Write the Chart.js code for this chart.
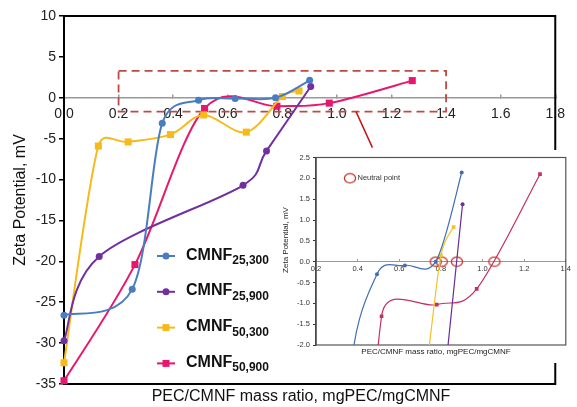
<!DOCTYPE html>
<html><head><meta charset="utf-8">
<script src="https://cdn.jsdelivr.net/npm/chart.js@4.4.1/dist/chart.umd.min.js"></script>
<style>
html,body{margin:0;padding:0;background:#fff;}
#wrap{position:relative;width:577px;height:407px;overflow:hidden;background:#fff;}
#main{position:absolute;left:0;top:0;width:577px;height:407px;}
#inset{position:absolute;left:272px;top:150px;width:305px;height:213px;background:#fff;}
</style></head><body>
<div id="wrap">
<canvas id="main" width="577" height="407"></canvas>
<canvas id="inset" width="305" height="213"></canvas>
</div>
<script>
// ---------- data ----------
const seriesBase = ['CMNF', 'CMNF', 'CMNF', 'CMNF'];
const seriesSub  = ['25,300', '25,900', '50,300', '50,900'];

const cmnf25_300_x = [0, 0.25, 0.36, 0.493, 0.627, 0.775, 0.90];
const cmnf25_300_y = [-26.6, -23.4, -3.1, -0.30, -0.09, 0.0, 2.14];

const cmnf25_900_x = [0, 0.129, 0.656, 0.742, 0.904];
const cmnf25_900_y = [-29.7, -19.4, -10.7, -6.5, 1.38];

const cmnf50_300_x = [0, 0.126, 0.235, 0.39, 0.512, 0.668, 0.80, 0.861];
const cmnf50_300_y = [-32.4, -5.9, -5.4, -4.5, -2.1, -4.2, 0.15, 0.83];

const cmnf50_900_x = [0, 0.26, 0.515, 0.78, 0.972, 1.276];
const cmnf50_900_y = [-34.6, -20.4, -1.31, -1.03, -0.655, 2.10];

const neutralX = [0.775, 0.804, 0.877, 1.057];
const neutralY = [0, 0, 0, 0];

const mainXTicks = { min: 0, max: 1.8, step: 0.2 };
const mainYTicks = { min: -35, max: 10, step: 5 };
const insetXTicks = { min: 0.2, max: 1.4, step: 0.2 };
const insetYTicks = { min: -2.0, max: 2.5, step: 0.5 };

const zoomBoxX = [0.2, 1.4];
const zoomBoxY = [3.3, -1.7];
const pointerX = [1.07, 1.13];
const pointerY = [-1.7, -6.1];

const xTitle = 'PEC/CMNF mass ratio, mgPEC/mgCMNF';
const yTitle = 'Zeta Potential, mV';
const neutralLabel = 'Neutral point';

// ---------- styles ----------
const FONT = '"Liberation Sans", Arial, Helvetica, sans-serif';
Chart.defaults.font.family = FONT;
Chart.defaults.color = '#222';

const mainColors  = ['#4a7cc0', '#7030a0', '#f6bb1a', '#e8176c'];
const insetColors = ['#3f6fb0', '#6b2d96', '#f2c22a', '#c32f62'];
const styles = ['circle', 'circle', 'rect', 'rect'];
const NEUTRAL = '#c0392b';

function pts(xs, ys) { return xs.map((x, i) => ({ x: x, y: ys[i] })); }
const seriesX = [cmnf25_300_x, cmnf25_900_x, cmnf50_300_x, cmnf50_900_x];
const seriesY = [cmnf25_300_y, cmnf25_900_y, cmnf50_300_y, cmnf50_900_y];

// ellipse marker for neutral points
const ell = document.createElement('canvas');
ell.width = 14; ell.height = 12;
(function () {
  const c = ell.getContext('2d');
  c.strokeStyle = NEUTRAL; c.lineWidth = 1.3;
  c.beginPath(); c.ellipse(7, 6, 5.6, 4.6, 0, 0, Math.PI * 2); c.stroke();
})();

// spreadsheet-style smoothing of the library's own point positions
const spreadsheetSmooth = {
  id: 'spreadsheetSmooth',
  beforeDatasetDraw(chart, args) {
    const meta = args.meta;
    const ds = chart.data.datasets[args.index];
    if (!meta.dataset || ds.showLine === false) return;
    const p = meta.data, n = p.length, K = 0.6;
    for (let i = 0; i < n; i++) {
      const c = p[i], a = p[Math.max(i - 1, 0)], b = p[Math.min(i + 1, n - 1)];
      const vx = b.x - a.x, vy = b.y - a.y, vl = Math.hypot(vx, vy) || 1;
      const d01 = Math.hypot(c.x - a.x, c.y - a.y), d12 = Math.hypot(b.x - c.x, b.y - c.y);
      const arm1 = Math.min(vl / 6, K * d01), arm2 = Math.min(vl / 6, K * d12);
      c.cp1x = c.x - vx / vl * arm1; c.cp1y = c.y - vy / vl * arm1;
      c.cp2x = c.x + vx / vl * arm2; c.cp2y = c.y + vy / vl * arm2;
    }
    meta.dataset._pointsUpdated = true;
    meta.dataset._path = undefined;
  }
};

// ---------- main chart plugins ----------
const mainDecor = {
  id: 'mainDecor',
  beforeDatasetsDraw(chart) {
    const { ctx, chartArea: a, scales: { x, y } } = chart;
    ctx.save();
    ctx.strokeStyle = '#000'; ctx.lineWidth = 2;
    ctx.strokeRect(a.left, a.top, a.right - a.left, a.bottom - a.top);
    ctx.strokeStyle = '#bf4a45'; ctx.lineWidth = 1.8; ctx.setLineDash([8, 5]);
    const x0 = x.getPixelForValue(zoomBoxX[0]), x1 = x.getPixelForValue(zoomBoxX[1]);
    const y0 = y.getPixelForValue(zoomBoxY[0]), y1 = y.getPixelForValue(zoomBoxY[1]);
    ctx.strokeRect(x0, y0, x1 - x0, y1 - y0);
    ctx.setLineDash([]);
    ctx.strokeStyle = '#c01818'; ctx.lineWidth = 1.5;
    ctx.beginPath();
    ctx.moveTo(x.getPixelForValue(pointerX[0]), y.getPixelForValue(pointerY[0]));
    ctx.lineTo(x.getPixelForValue(pointerX[1]), y.getPixelForValue(pointerY[1]));
    ctx.stroke();
    ctx.restore();
  },
  afterDatasetsDraw(chart) {
    const { ctx } = chart;
    const L = { x: 157, y: 256, dy: 35.8 };
    ctx.save();
    for (let i = 0; i < 4; i++) {
      const yy = L.y + i * L.dy;
      ctx.strokeStyle = mainColors[i]; ctx.fillStyle = mainColors[i]; ctx.lineWidth = 2;
      ctx.beginPath(); ctx.moveTo(L.x, yy); ctx.lineTo(L.x + 18, yy); ctx.stroke();
      if (styles[i] === 'circle') { ctx.beginPath(); ctx.arc(L.x + 9, yy, 3.5, 0, Math.PI * 2); ctx.fill(); }
      else { ctx.fillRect(L.x + 9 - 3.5, yy - 3.5, 7, 7); }
      ctx.fillStyle = '#111';
      ctx.textBaseline = 'alphabetic'; ctx.textAlign = 'left';
      ctx.font = 'bold 16px ' + FONT;
      ctx.fillText(seriesBase[i], L.x + 29, yy + 3.5);
      const w = ctx.measureText(seriesBase[i]).width;
      ctx.font = 'bold 12px ' + FONT;
      ctx.fillText(seriesSub[i], L.x + 29 + w, yy + 8);
    }
    ctx.restore();
  },
  afterDraw(chart) {
    const { ctx } = chart;
    ctx.save();
    ctx.fillStyle = '#111'; ctx.font = '16px ' + FONT;
    ctx.textAlign = 'center'; ctx.textBaseline = 'middle';
    ctx.fillText(xTitle, 301, 397);
    ctx.restore();
  }
};

new Chart(document.getElementById('main'), {
  type: 'line',
  data: {
    datasets: seriesX.map((xs, i) => ({
      label: seriesBase[i] + seriesSub[i],
      data: pts(xs, seriesY[i]),
      borderColor: mainColors[i], backgroundColor: mainColors[i],
      pointStyle: styles[i], pointRadius: styles[i] === 'circle' ? 3.5 : 5,
      pointBorderWidth: 0, borderWidth: 2, tension: 0.5, fill: false, clip: false
    }))
  },
  options: {
    responsive: false, animation: false,
    layout: { padding: { left: 0, top: 16, right: 21, bottom: 23 } },
    plugins: { legend: { display: false }, tooltip: { enabled: false } },
    elements: { line: { capBezierPoints: false } },
    scales: {
      x: {
        type: 'linear', position: { y: 0 }, min: mainXTicks.min, max: mainXTicks.max,
        ticks: { stepSize: mainXTicks.step, callback: v => Number(v).toFixed(1), font: { size: 14 }, padding: 12, color: '#222', maxRotation: 0, autoSkip: false },
        grid: { drawOnChartArea: false, drawTicks: true, tickLength: -4, color: '#999', lineWidth: 1.5 },
        border: { color: '#999', width: 1.5 }
      },
      y: {
        min: mainYTicks.min, max: mainYTicks.max,
        ticks: { stepSize: mainYTicks.step, callback: v => String(v), font: { size: 14 }, padding: 3, color: '#222' },
        grid: { drawOnChartArea: false, tickLength: 5, color: '#000', lineWidth: 1.5 },
        border: { color: '#000', width: 2 },
        title: { display: true, text: yTitle, font: { size: 16 }, padding: { top: 11, bottom: 0 }, color: '#111' },
        afterFit(s) { s.width = 64; }
      }
    }
  },
  plugins: [spreadsheetSmooth, mainDecor]
});

// ---------- inset ----------
const insetDecor = {
  id: 'insetDecor',
  beforeDatasetsDraw(chart) {
    const { ctx, chartArea: a } = chart;
    ctx.save();
    ctx.strokeStyle = '#555'; ctx.lineWidth = 1.2;
    ctx.strokeRect(a.left, a.top, a.right - a.left, a.bottom - a.top);
    ctx.restore();
  },
  afterDraw(chart) {
    const { ctx } = chart;
    ctx.save();
    ctx.drawImage(ell, 78 - 7, 28.3 - 6);
    ctx.fillStyle = '#333'; ctx.font = '7.5px ' + FONT;
    ctx.textAlign = 'left'; ctx.textBaseline = 'middle';
    ctx.fillText(neutralLabel, 85.5, 28.3);
    ctx.fillStyle = '#222'; ctx.font = '8px ' + FONT; ctx.textAlign = 'center';
    ctx.fillText(xTitle, 164, 201.7);
    ctx.translate(14, 90); ctx.rotate(-Math.PI / 2);
    ctx.fillText(yTitle, 0, 0);
    ctx.restore();
  }
};

const insetSets = seriesX.map((xs, i) => ({
  label: seriesBase[i] + seriesSub[i],
  data: pts(xs, seriesY[i]),
  borderColor: insetColors[i], backgroundColor: insetColors[i],
  pointStyle: styles[i], pointRadius: styles[i] === 'circle' ? 2 : 2.6,
  pointBorderWidth: 0, borderWidth: 1.2, tension: 0.5, fill: false,
  clip: { left: 0, top: 0, right: 0, bottom: 0 }
}));
insetSets.push({
  label: neutralLabel, data: pts(neutralX, neutralY), showLine: false,
  pointStyle: ell, pointRadius: 6, clip: false
});

new Chart(document.getElementById('inset'), {
  type: 'line',
  data: { datasets: insetSets },
  options: {
    responsive: false, animation: false,
    layout: { padding: { left: 0, top: 5, right: 9, bottom: 18 } },
    plugins: { legend: { display: false }, tooltip: { enabled: false } },
    elements: { line: { capBezierPoints: false } },
    scales: {
      x: {
        type: 'linear', position: { y: 0 }, min: insetXTicks.min, max: insetXTicks.max,
        ticks: { stepSize: insetXTicks.step, callback: v => Number(v).toFixed(1), font: { size: 7.5 }, padding: 6, color: '#333', maxRotation: 0, autoSkip: false },
        grid: { drawOnChartArea: false, drawTicks: true, tickLength: -3, color: '#999', lineWidth: 1 },
        border: { color: '#999', width: 1 }
      },
      y: {
        min: insetYTicks.min, max: insetYTicks.max,
        ticks: { stepSize: insetYTicks.step, callback: v => Number(v).toFixed(1), font: { size: 7.5 }, padding: 3, color: '#333' },
        grid: { drawOnChartArea: false, tickLength: 3, color: '#333', lineWidth: 1 },
        border: { color: '#333', width: 1.5 },
        afterFit(s) { s.width = 44; }
      }
    }
  },
  plugins: [spreadsheetSmooth, insetDecor]
});
</script>
</body></html>
